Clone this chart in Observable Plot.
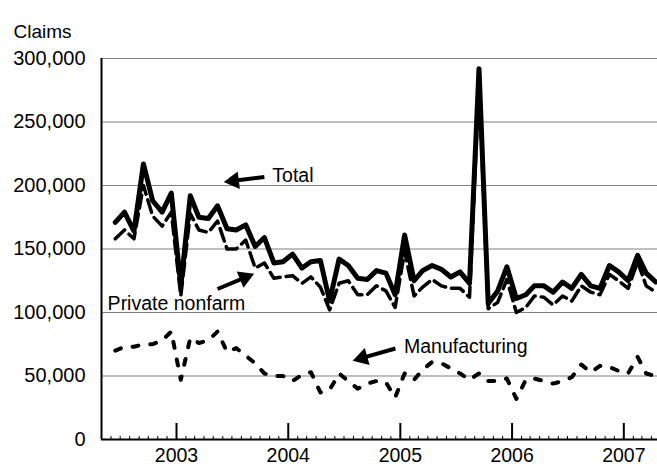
<!DOCTYPE html>
<html>
<head>
<meta charset="utf-8">
<script src="https://cdn.jsdelivr.net/npm/d3@7"></script>
<script src="https://cdn.jsdelivr.net/npm/@observablehq/plot@0.6"></script>
<style>
  html, body { margin: 0; padding: 0; background: #fff; }
</style>
</head>
<body>
<div id="chart"></div>
<script>
// Monthly initial claims, June 2002 – April 2007
const firstMonth = [2002, 5]; // June 2002 (UTC year, month index)
const total = [171000, 179000, 164000, 217000, 188000, 179000, 194000, 121000, 192000, 175000,
  174000, 184000, 166000, 165000, 169000, 152000, 159000, 139000, 140000, 146000,
  135000, 140000, 141000, 109000, 142000, 137000, 127000, 126000, 133000, 131000,
  114000, 161000, 125000, 133000, 137000, 134000, 128000, 132000, 123000, 292000,
  107000, 117000, 136000, 111000, 114000, 121000, 121000, 116000, 124000, 119000,
  130000, 121000, 119000, 137000, 132000, 125000, 145000, 131000, 124000];
const privateNonfarm = [158000, 165000, 158000, 200000, 176000, 168000, 179000, 113000, 178000, 165000,
  163000, 172000, 150000, 150000, 157000, 135000, 139000, 127000, 128000, 129000,
  123000, 128000, 120000, 102000, 123000, 125000, 114000, 114000, 121000, 117000,
  104000, 148000, 113000, 120000, 126000, 121000, 119000, 119000, 112000, 283000,
  103000, 108000, 126000, 100000, 104000, 113000, 112000, 106000, 113000, 109000,
  121000, 116000, 114000, 130000, 125000, 119000, 140000, 121000, 116000];
const manufacturing = [70000, 73000, 73000, 75000, 75000, 78000, 85000, 47000, 80000, 76000,
  78000, 85000, 69000, 72000, 66000, 60000, 52000, 50000, 50000, 46000,
  51000, 53000, 37000, 39000, 52000, 46000, 40000, 44000, 46000, 45000,
  33000, 52000, 47000, 55000, 61000, 60000, 56000, 52000, 47000, 52000,
  46000, 46000, 48000, 32000, 47000, 48000, 46000, 44000, 46000, 49000,
  59000, 53000, 58000, 57000, 54000, 52000, 65000, 52000, 50000];
const yTicks = [0, 50000, 100000, 150000, 200000, 250000, 300000];
const yearTicks = [2003, 2004, 2005, 2006, 2007];
const seriesLabels = ["Total", "Private nonfarm", "Manufacturing"];

// ---- build tables ----
const dates = total.map((_, i) => new Date(Date.UTC(firstMonth[0], firstMonth[1] + i, 15)));
const rows = vals => vals.map((v, i) => ({date: dates[i], value: v}));
const xStart = new Date(Date.UTC(2002, 4, 1));
const xEnd = new Date(Date.UTC(2007, 3, 21));
const yearDates = yearTicks.map(y => new Date(Date.UTC(y, 0, 1)));
const monthDates = d3.utcMonth.range(new Date(Date.UTC(2002, 5, 1)), xEnd)
  .filter(d => d.getUTCMonth() !== 0);

const unitsPerPx = 300000 / 381;

// annotation layout (data coordinates)
const D = (y, m, d) => new Date(Date.UTC(y, m - 1, d));
const labels = [
  {x: D(2003, 11, 10), y: 207900, text: seriesLabels[0]},
  {x: D(2002, 5, 21), y: 107100, text: seriesLabels[1]},
  {x: D(2005, 1, 13), y: 72800, text: seriesLabels[2]}
];
const arrows = [
  {x1: D(2003, 10, 15), y1: 206700, x2: D(2003, 7, 7), y2: 203660, rotate: -97},
  {x1: D(2003, 5, 15), y1: 118500, x2: D(2003, 8, 12), y2: 127480, rotate: 67},
  {x1: D(2004, 12, 16), y1: 71650, x2: D(2004, 8, 30), y2: 64250, rotate: -106}
];

const chart = Plot.plot({
  width: 657,
  height: 467,
  marginLeft: 101,
  marginRight: 0,
  marginTop: 58,
  marginBottom: 28,
  x: {type: "utc", domain: [xStart, xEnd]},
  y: {domain: [0, 300000]},
  style: {fontFamily: "'Liberation Sans', Arial, sans-serif", fontSize: "20px", color: "#000", background: "#fff"},
  marks: [
    Plot.ruleY(yTicks.slice(1), {stroke: "#808080", strokeWidth: 1.2}),
    Plot.line(rows(manufacturing), {x: "date", y: "value", stroke: "#000", strokeWidth: 4, strokeDasharray: "6,12"}),
    Plot.line(rows(privateNonfarm), {x: "date", y: "value", stroke: "#000", strokeWidth: 3.5, strokeDasharray: "13,6"}),
    Plot.line(rows(total), {x: "date", y: "value", stroke: "#000", strokeWidth: 5, strokeLinejoin: "round"}),
    Plot.ruleX(monthDates, {y1: 0, y2: 3 * unitsPerPx, stroke: "#000", strokeWidth: 1}),
    Plot.ruleX(yearDates, {y1: 0, y2: 16 * unitsPerPx, stroke: "#000", strokeWidth: 2}),
    Plot.ruleY([0], {stroke: "#000", strokeWidth: 2}),
    Plot.ruleX([xStart], {stroke: "#000", strokeWidth: 2}),
    Plot.axisY(yTicks, {tickSize: 0, tickPadding: 16, tickFormat: d3.format(","), fontSize: 20, label: null}),
    Plot.axisX(yearDates, {tickSize: 0, tickPadding: 9, tickFormat: d3.utcFormat("%Y"), fontSize: 19.5, label: null}),
    Plot.text(["Claims"], {frameAnchor: "top-left", dx: -88, dy: -34, textAnchor: "start", fontSize: 19}),
    Plot.link(arrows, {x1: "x1", y1: "y1", x2: "x2", y2: "y2", stroke: "#000", strokeWidth: 4}),
    Plot.dot(arrows, {x: "x2", y: "y2", rotate: "rotate", symbol: "triangle", r: 6.5, fill: "#000", stroke: "none"}),
    Plot.text(labels, {x: "x", y: "y", text: "text", textAnchor: "start", fontSize: 19.5})
  ]
});
document.getElementById("chart").append(chart);
</script>
</body>
</html>
